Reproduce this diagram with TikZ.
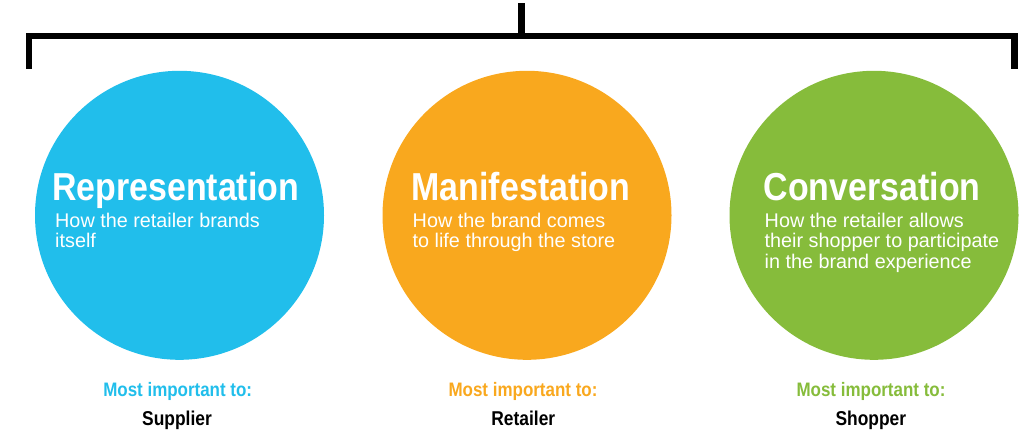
\documentclass[tikz,border=0pt]{standalone}
\usepackage{fontspec}
\setmainfont{Liberation Sans}
\newfontfamily\condfont{Liberation Sans}[FakeStretch=0.87]
\definecolor{cblue}{RGB}{33,190,235}
\definecolor{corange}{RGB}{249,168,30}
\definecolor{cgreen}{RGB}{134,188,59}
\tikzset{
  disc/.style={circle, inner sep=0pt, minimum size=289pt, draw=none},
  titletext/.style={anchor=base west, inner sep=0pt, text=white, font=\condfont\bfseries\fontsize{39}{39}\selectfont},
  subtext/.style={anchor=base west, inner sep=0pt, text=white, font=\fontsize{19.8}{20.7}\selectfont},
  headtext/.style={anchor=base, inner sep=0pt, font=\condfont\bfseries\fontsize{19.5}{19.5}\selectfont},
  whotext/.style={anchor=base, inner sep=0pt, text=black, font=\condfont\bfseries\fontsize{20}{20}\selectfont},
  bracketline/.style={line width=6.5pt, black, line join=miter}
}
\begin{document}
\begin{tikzpicture}[x=1pt, y=-1pt]
\useasboundingbox (0,0) rectangle (1030,432);

% bracket
\coordinate (top) at (521.7,3.3);
\coordinate (mid) at (521.7,36);
\coordinate (lend) at (29,68.5);
\coordinate (lcorner) at (29,36);
\coordinate (rcorner) at (1014.7,36);
\coordinate (rend) at (1014.7,68.5);
\draw[bracketline] (lend) -- (lcorner) -- (rcorner) -- (rend);
\draw[bracketline] (top) -- (mid);

% circles
\node[disc, fill=cblue]   (rep) at (179.5,215.3) {};
\node[disc, fill=corange] (man) at (527,215.3) {};
\node[disc, fill=cgreen]  (con) at (874,215.3) {};

% titles
\node[titletext] (repT) at (52,200.7) {Representation};
\node[titletext] (manT) at (411.5,200.7) {Manifestation};
\node[titletext] (conT) at (763.5,200.7) {Conversation};

% subtitles
\node[subtext] (repS1) at (55,227) {How the retailer brands};
\node[subtext] (repS2) at (55,247.7) {itself};
\node[subtext] (manS1) at (412.5,227) {How the brand comes};
\node[subtext] (manS2) at (412.5,247.7) {to life through the store};
\node[subtext] (conS1) at (764.5,227) {How the retailer allows};
\node[subtext] (conS2) at (764.5,247.7) {their shopper to participate};
\node[subtext] (conS3) at (764.5,268.4) {in the brand experience};

% bottom labels
\node[headtext, text=cblue]   (repH) at (177.7,396) {Most important to:};
\node[headtext, text=corange] (manH) at (523,396) {Most important to:};
\node[headtext, text=cgreen]  (conH) at (871,396) {Most important to:};
\node[whotext] (repW) at (177,425) {Supplier};
\node[whotext] (manW) at (523.3,425) {Retailer};
\node[whotext] (conW) at (870.8,425) {Shopper};
\end{tikzpicture}
\end{document}
